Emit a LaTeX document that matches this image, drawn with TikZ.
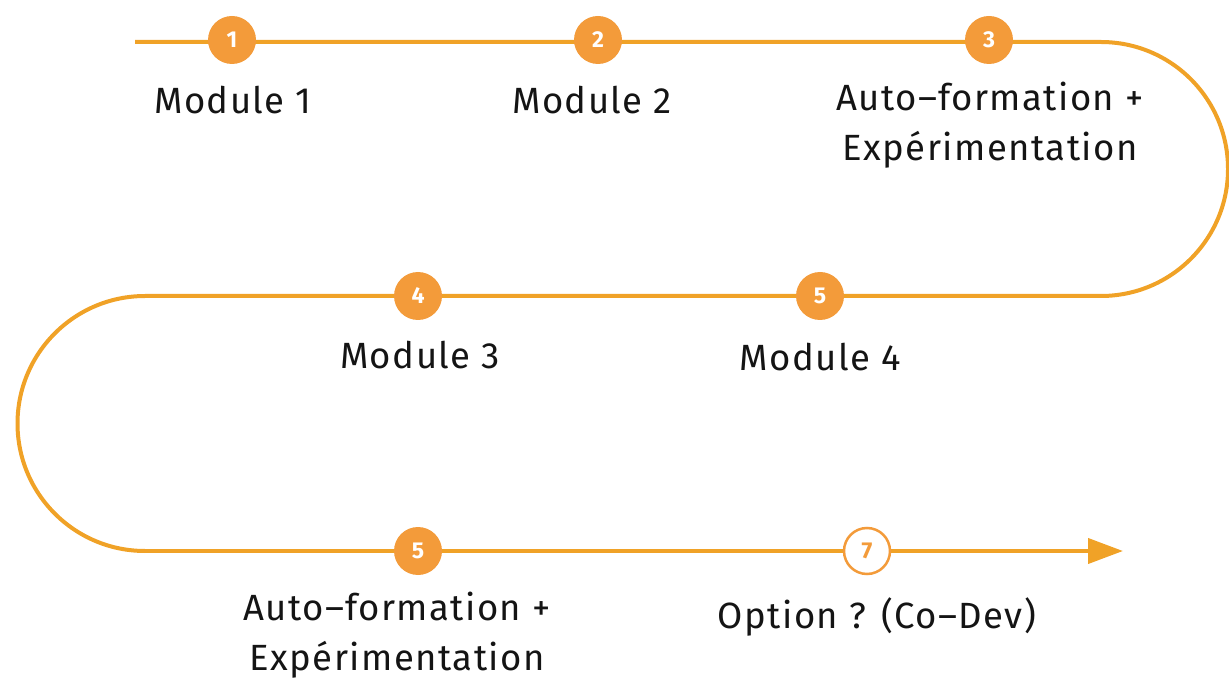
\documentclass[tikz,border=0pt]{standalone}
\usepackage{fontspec}
\setmainfont{Fira Sans}
\newfontfamily\lblfont[LetterSpace=4]{Fira Sans}
\usetikzlibrary{arrows.meta}
\definecolor{lineor}{HTML}{F0A227}
\definecolor{circor}{HTML}{F39B3A}
\definecolor{txt}{HTML}{141414}
\tikzset{
  track/.style={draw=lineor,line width=4pt},
  stepdot/.style={circle,fill=circor,draw=none,minimum size=48pt,inner sep=0pt,text=white,font=\fontsize{23}{23}\selectfont\bfseries},
  stepring/.style={circle,fill=white,draw=circor,line width=2.5pt,minimum size=46pt,inner sep=0pt,text=circor,font=\fontsize{23}{23}\selectfont\bfseries},
  lbl/.style={text=txt,align=center,font=\lblfont\fontsize{36.5}{50}\selectfont,inner sep=0pt}
}
\begin{document}
\begin{tikzpicture}[x=1pt,y=1pt]
\useasboundingbox (0,0) rectangle (1229,681);
\coordinate (s) at (135,639);
\coordinate (r1) at (1101,639);
\coordinate (r2) at (1101,385);
\coordinate (l1) at (145,385);
\coordinate (l2) at (145,130);
\coordinate (e) at (1123,130);
\draw[track] (s) -- (r1) arc[start angle=90,end angle=-90,radius=127] -- (l1)
  arc[start angle=90,end angle=270,radius=127.5] -- (l2);
\draw[track,-{Triangle[length=35pt,width=25pt]}] (l2) -- (e);
\node[stepdot] (c1) at (232,641) {1};
\node[stepdot] (c2) at (598,641) {2};
\node[stepdot] (c3) at (989,641) {3};
\node[stepdot] (c4) at (418,385) {4};
\node[stepdot] (c5) at (820,385) {5};
\node[stepdot] (c6) at (418,130) {5};
\node[stepring] (c7) at (867,130) {7};
\node[lbl] (t1) at (233,581) {Module 1};
\node[lbl] (t2) at (592,581) {Module 2};
\node[lbl] (t3) at (990,556) {Auto–formation +\\Expérimentation};
\node[lbl] (t4) at (420,326) {Module 3};
\node[lbl] (t5) at (820,324) {Module 4};
\node[lbl] (t6) at (397,46) {Auto–formation +\\Expérimentation};
\node[lbl] (t7) at (877,64) {Option ? (Co–Dev)};
\end{tikzpicture}
\end{document}
